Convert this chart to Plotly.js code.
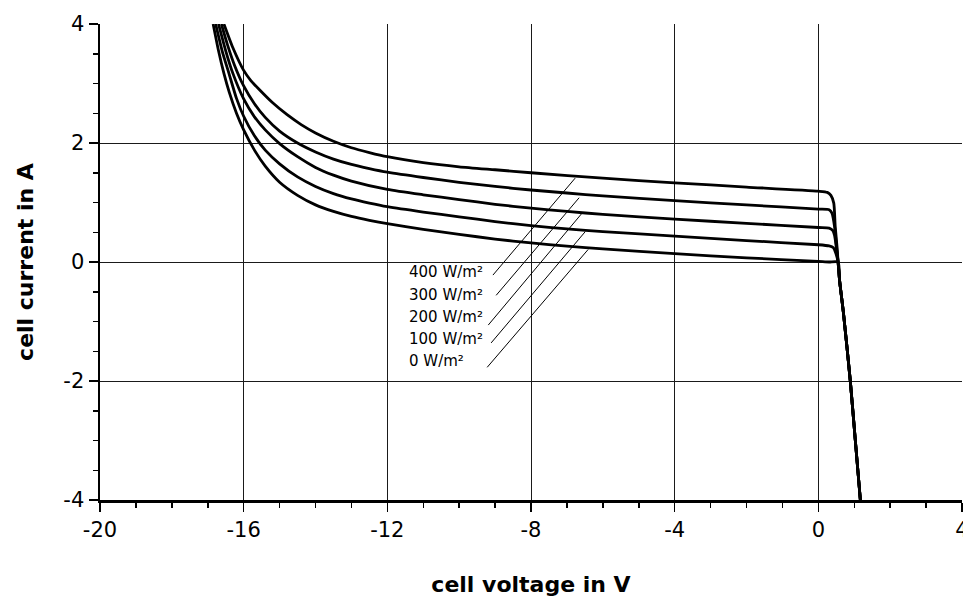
<!DOCTYPE html>
<html>
<head>
<meta charset="utf-8">
<script src="https://cdn.plot.ly/plotly-3.0.1.min.js"></script>
<style>html,body{margin:0;padding:0;background:#fff;}#chart{width:963px;height:597px;}</style>
</head>
<body>
<div id="chart"></div>
<script>
// Irradiance levels
const curveLabels = ['400 W/m²', '300 W/m²', '200 W/m²', '100 W/m²', '0 W/m²'];

// Cell voltage (V) / cell current (A) for each irradiance
const v400 = [-16.55, -16.3, -16.0, -15.8, -15.6, -15.2, -14.8, -14.4, -14.0, -13.5, -13.0, -12.5, -12.0, -11.0, -10.0, -9.0, -8.0, -6.0, -4.0, -2.0, 0.0, 0.25, 0.35, 0.43, 0.47, 0.52, 0.55];
const i400 = [4.0, 3.6, 3.22, 3.05, 2.92, 2.68, 2.48, 2.31, 2.17, 2.03, 1.92, 1.84, 1.77, 1.67, 1.60, 1.55, 1.50, 1.41, 1.33, 1.26, 1.19, 1.17, 1.12, 0.99, 0.60, 0.26, 0.0];

const v300 = [-16.62, -16.45, -16.25, -16.0, -15.7, -15.4, -15.0, -14.5, -14.0, -13.5, -13.0, -12.5, -12.0, -11.0, -10.0, -9.0, -8.0, -7.0, -6.0, -4.0, -2.0, 0.0, 0.3, 0.38, 0.45, 0.5, 0.55];
const i300 = [4.0, 3.65, 3.3, 2.96, 2.66, 2.43, 2.2, 2.0, 1.85, 1.73, 1.64, 1.57, 1.51, 1.42, 1.34, 1.27, 1.21, 1.16, 1.11, 1.03, 0.96, 0.89, 0.88, 0.82, 0.6, 0.3, 0.0];

const v200 = [-16.7, -16.5, -16.3, -16.0, -15.7, -15.4, -15.0, -14.5, -14.0, -13.5, -13.0, -12.0, -11.0, -10.0, -9.0, -8.0, -7.0, -6.0, -4.0, -2.0, 0.0, 0.3, 0.4, 0.45, 0.5, 0.55];
const i200 = [4.0, 3.55, 3.17, 2.74, 2.44, 2.22, 1.99, 1.77, 1.59, 1.46, 1.36, 1.22, 1.13, 1.05, 0.97, 0.905, 0.85, 0.80, 0.72, 0.65, 0.58, 0.57, 0.53, 0.45, 0.25, 0.0];

const v100 = [-16.78, -16.6, -16.4, -16.2, -16.0, -15.7, -15.4, -15.0, -14.5, -14.0, -13.5, -13.0, -12.5, -12.0, -11.0, -10.0, -9.0, -8.0, -7.0, -6.0, -4.0, -2.0, 0.0, 0.3, 0.42, 0.48, 0.55];
const i100 = [4.0, 3.55, 3.15, 2.75, 2.45, 2.12, 1.88, 1.65, 1.43, 1.27, 1.15, 1.06, 0.99, 0.93, 0.84, 0.76, 0.68, 0.61, 0.555, 0.51, 0.435, 0.36, 0.29, 0.27, 0.24, 0.16, 0.0];

const v0 = [-16.85, -16.7, -16.55, -16.4, -16.2, -16.0, -15.7, -15.4, -15.0, -14.5, -14.0, -13.5, -13.0, -12.5, -12.0, -11.0, -10.0, -9.0, -8.0, -7.0, -6.0, -4.0, -2.0, 0.0, 0.3, 0.55];
const i0 = [4.0, 3.55, 3.17, 2.85, 2.5, 2.22, 1.88, 1.61, 1.34, 1.12, 0.96, 0.85, 0.765, 0.70, 0.645, 0.55, 0.465, 0.385, 0.32, 0.265, 0.22, 0.14, 0.07, 0.01, 0.0, 0.0];

// Common reverse branch (forward voltage region)
const tailV = [0.59, 0.70, 0.89, 1.03, 1.17];
const tailI = [-0.3, -0.86, -2.0, -3.0, -4.0];

// Label positions and leader lines (data units)
const labelV = [-11.46, -11.46, -11.46, -11.46, -11.46];
const labelI = [-0.17, -0.56, -0.93, -1.30, -1.67];
const leadStartV = [-9.06, -8.97, -9.19, -9.11, -9.22];
const leadStartI = [-0.22, -0.56, -1.06, -1.36, -1.77];
const leadEndV = [-6.77, -6.66, -6.58, -6.49, -6.41];
const leadEndI = [1.41, 1.08, 0.82, 0.51, 0.21];

const xTicks = [-20, -16, -12, -8, -4, 0, 4];
const yTicks = [-4, -2, 0, 2, 4];

const allV = [v400, v300, v200, v100, v0];
const allI = [i400, i300, i200, i100, i0];

const FONT = 'DejaVu Sans, Liberation Sans, Arial, sans-serif';

const traces = allV.map((vs, k) => ({
  x: vs.concat(tailV),
  y: allI[k].concat(tailI),
  type: 'scatter',
  mode: 'lines',
  name: curveLabels[k],
  line: {color: '#000', width: 2.8, shape: 'spline', smoothing: 0.6},
  showlegend: false,
  hoverinfo: 'skip'
}));

const annotations = curveLabels.map((t, k) => ({
  x: labelV[k], y: labelI[k], xref: 'x', yref: 'y',
  text: t, showarrow: false, xanchor: 'left', yanchor: 'middle',
  font: {family: FONT, size: 15, color: '#000'}
}));

const shapes = leadStartV.map((sv, k) => ({
  type: 'line', xref: 'x', yref: 'y',
  x0: sv, y0: leadStartI[k], x1: leadEndV[k], y1: leadEndI[k],
  line: {color: '#000', width: 1}
}));

const layout = {
  width: 963, height: 597,
  margin: {l: 100, r: 1, t: 24, b: 97},
  paper_bgcolor: '#fff', plot_bgcolor: '#fff',
  font: {family: FONT, color: '#000'},
  showlegend: false,
  xaxis: {
    range: [-20, 4], tickvals: xTicks, ticktext: xTicks.map(String),
    ticks: 'outside', ticklen: 9, tickwidth: 1.5, tickcolor: '#000',
    showline: true, linewidth: 2.5, linecolor: '#000',
    showgrid: true, gridcolor: '#1a1a1a', gridwidth: 1, zeroline: false,
    minor: {dtick: 1, tick0: 0, ticks: 'outside', ticklen: 5, tickwidth: 1.5, tickcolor: '#000', showgrid: false},
    tickfont: {family: FONT, size: 21, color: '#000'},
    ticklabeloverflow: 'allow',
    title: {text: 'cell voltage in V', font: {family: FONT, size: 22, color: '#000', weight: 'bold'}, standoff: 40},
    fixedrange: true
  },
  yaxis: {
    range: [-4, 4], tickvals: yTicks, ticktext: yTicks.map(String),
    ticks: 'outside', ticklen: 9, tickwidth: 1.5, tickcolor: '#000',
    showline: true, linewidth: 2.5, linecolor: '#000',
    showgrid: true, gridcolor: '#1a1a1a', gridwidth: 1, zeroline: false,
    minor: {dtick: 0.5, tick0: 0, ticks: 'outside', ticklen: 5, tickwidth: 1.5, tickcolor: '#000', showgrid: false},
    tickfont: {family: FONT, size: 21, color: '#000'},
    ticklabeloverflow: 'allow',
    title: {text: 'cell current in A', font: {family: FONT, size: 22, color: '#000', weight: 'bold'}, standoff: 24},
    fixedrange: true
  },
  annotations: annotations,
  shapes: shapes
};

Plotly.newPlot('chart', traces, layout, {staticPlot: true, displayModeBar: false});
</script>
</body>
</html>
